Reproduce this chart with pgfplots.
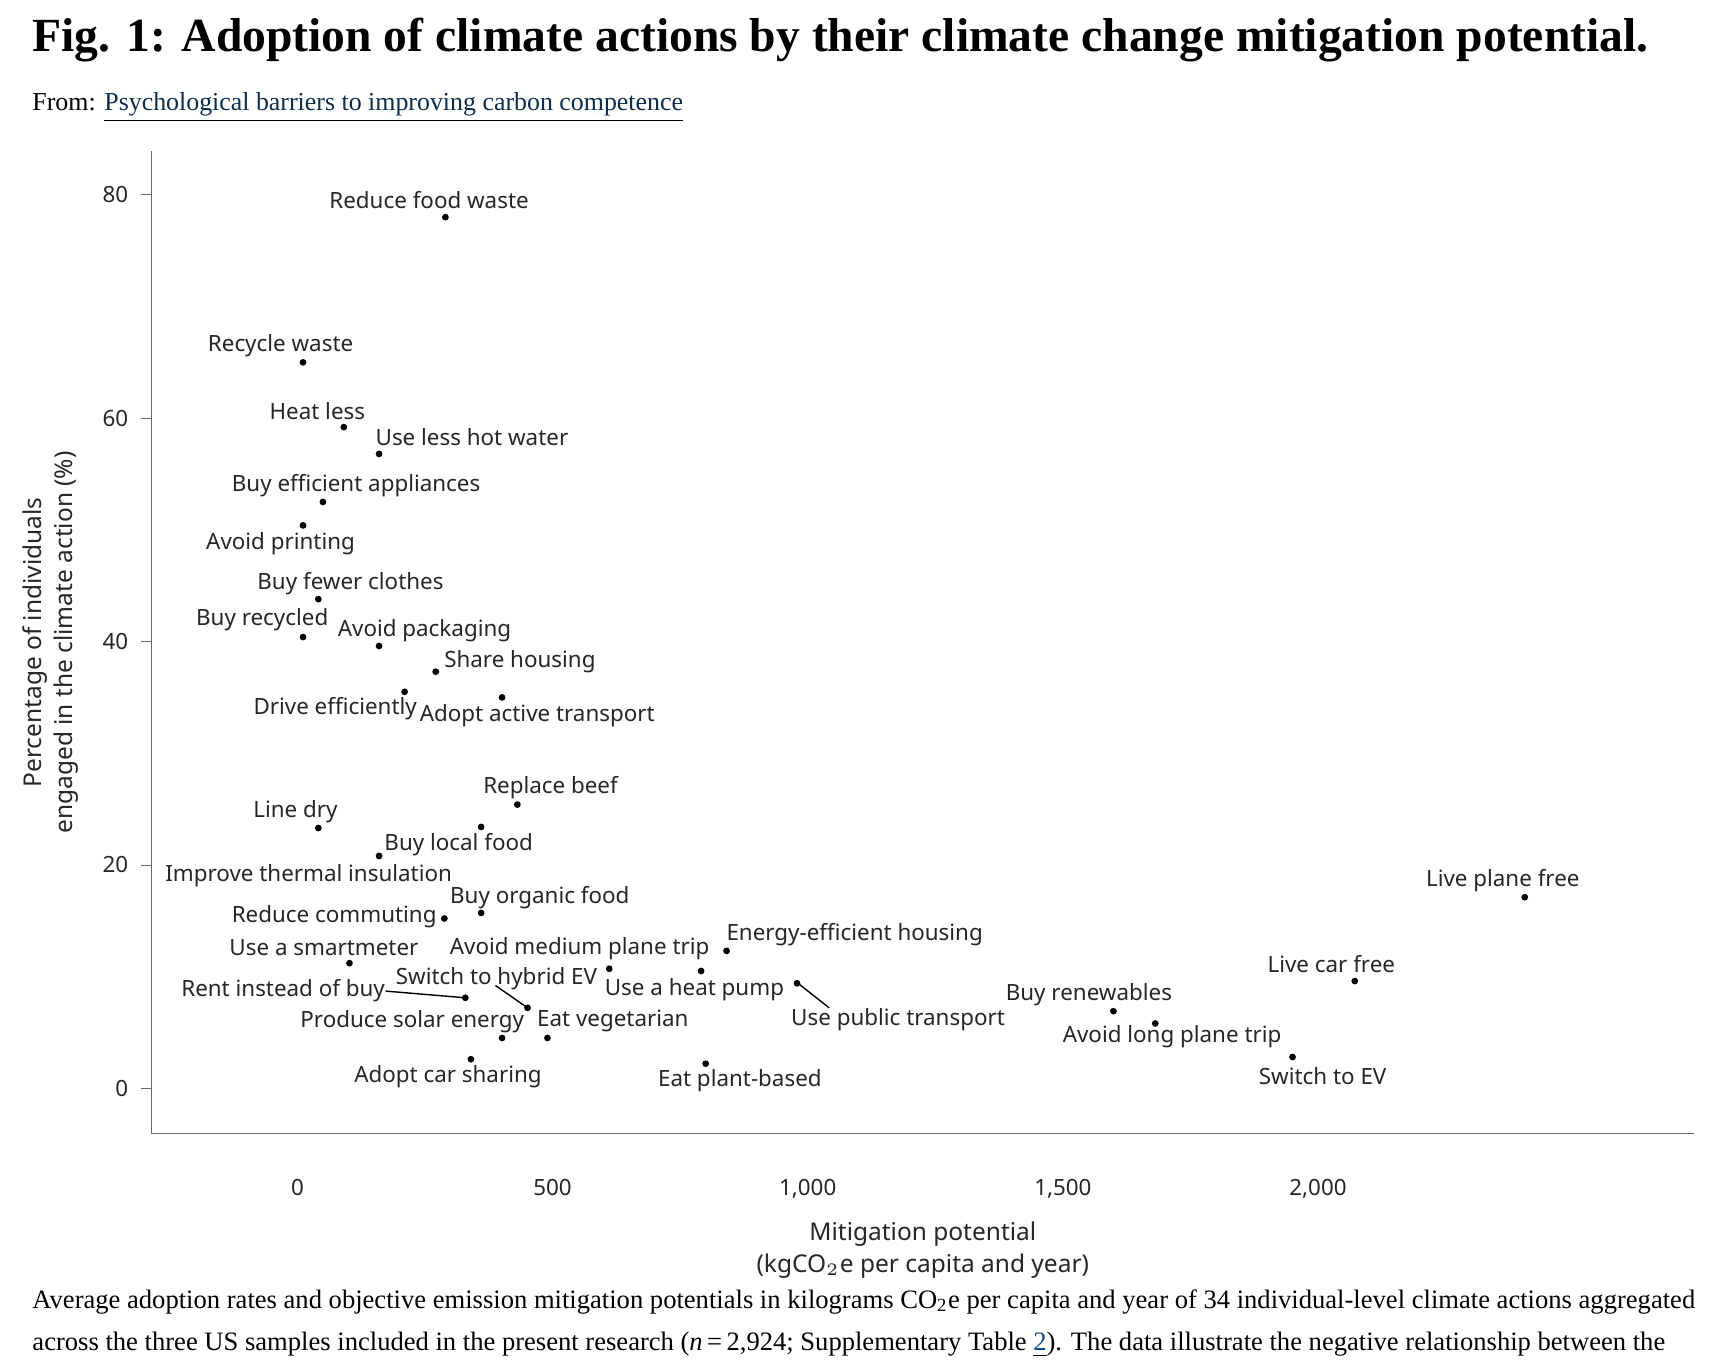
\documentclass[border=0pt]{standalone}
\usepackage{pgfplots}
\pgfplotsset{compat=1.18}
\usepackage{fontspec}
\setmainfont{Liberation Serif}
\newfontfamily\chartfont{Noto Sans}
\begin{document}
\begin{tikzpicture}
\path[use as bounding box] (-1.522,-2.39) rectangle (15.78,11.39);
\node[anchor=west,font=\fontsize{13.6}{15}\selectfont\bfseries] at (-1.32,10.99) {Fig. 1: Adoption of climate actions by their climate change mitigation potential.};
\node[anchor=west,font=\fontsize{7.4}{9}\selectfont] at (-1.32,10.31) {From: \underline{\color[HTML]{0B2D4F}Psychological barriers to improving carbon competence}};
\node[anchor=west,font=\fontsize{7.6}{9}\selectfont] at (-1.32,-1.69) {Average adoption rates and objective emission mitigation potentials in kilograms CO\textsubscript{2}e per capita and year of 34 individual-level climate actions aggregated};
\node[anchor=west,font=\fontsize{7.6}{9}\selectfont] at (-1.32,-2.12) {across the three US samples included in the present research (\textit{n}\,=\,2,924; Supplementary Table \underline{\color[HTML]{0B4F8F}2}). The data illustrate the negative relationship between the};
\begin{axis}[
  at={(0,0)}, anchor=south west, scale only axis,
  width=15.5cm, height=9.87cm,
  xmin=-286, xmax=2737, ymin=-4.06, ymax=83.9,
  axis lines=left, axis line style={-, gray!80!black, thin},
  xtick={0,500,1000,1500,2000},
  xticklabels={0,500,{1,000},{1,500},{2,000}},
  ytick={0,20,40,60,80},
  tick style={gray!80!black},
  major tick length=0.11cm,
  x tick style={draw=none},
  xtick align=outside, ytick align=outside,
  xticklabel style={yshift=-0.22cm},
  tick label style={font=\chartfont\fontsize{6.4}{8}\selectfont, color=black!85},
  /pgf/number format/assume math mode=true,
  xlabel={Mitigation potential\\(kgCO$_2$e per capita and year)},
  ylabel={Percentage of individuals\\engaged in the climate action (\%)},
  label style={font=\chartfont\fontsize{7}{9}\selectfont, align=center, color=black!85},
  clip=false,
]
\addplot[only marks, mark=*, mark size=0.75pt, black] coordinates {
(290,78.0) (11,65.0) (91,59.2) (160,56.8) (50,52.5) (11,50.4) (41,43.8) (11,40.4)
(160,39.6) (271,37.3) (210,35.5) (401,35.0) (431,25.4) (41,23.3) (360,23.4) (160,20.8)
(288,15.2) (360,15.7) (102,11.2) (841,12.3) (611,10.7) (791,10.5) (979,9.4) (329,8.1)
(451,7.2) (401,4.5) (490,4.5) (340,2.6) (800,2.2) (1599,6.9) (1681,5.8) (1950,2.8)
(2072,9.6) (2405,17.1)
};
\addplot[black, thin] coordinates {(173,8.7) (329,8.1)};
\addplot[black, thin] coordinates {(388,9.2) (451,7.2)};
\addplot[black, thin] coordinates {(981,9.4) (1042,7.2)};
\begin{scope}[every node/.style={font=\chartfont\fontsize{6.4}{8}\selectfont, color=black!85, inner sep=0pt}]
\node at (axis cs:258,79.5) {Reduce food waste};
\node at (axis cs:-33,66.5) {Recycle waste};
\node at (axis cs:39,60.6) {Heat less};
\node at (axis cs:342,58.3) {Use less hot water};
\node at (axis cs:115,54.0) {Buy efficient appliances};
\node at (axis cs:-33,48.8) {Avoid printing};
\node at (axis cs:104,45.2) {Buy fewer clothes};
\node at (axis cs:-69,42.0) {Buy recycled};
\node at (axis cs:249,41.0) {Avoid packaging};
\node at (axis cs:436,38.2) {Share housing};
\node at (axis cs:74,34.0) {Drive efficiently};
\node at (axis cs:470,33.4) {Adopt active transport};
\node at (axis cs:496,26.9) {Replace beef};
\node at (axis cs:-4,24.8) {Line dry};
\node at (axis cs:316,21.8) {Buy local food};
\node at (axis cs:22,19.0) {Improve thermal insulation};
\node at (axis cs:475,17.1) {Buy organic food};
\node at (axis cs:72,15.4) {Reduce commuting};
\node at (axis cs:52,12.6) {Use a smartmeter};
\node at (axis cs:1092,13.8) {Energy-efficient housing};
\node at (axis cs:553,12.5) {Avoid medium plane trip};
\node at (axis cs:390,9.8) {Switch to hybrid EV};
\node at (axis cs:778,8.8) {Use a heat pump};
\node at (axis cs:-28,8.7) {Rent instead of buy};
\node at (axis cs:1177,6.1) {Use public transport};
\node at (axis cs:225,6.0) {Produce solar energy};
\node at (axis cs:618,6.0) {Eat vegetarian};
\node at (axis cs:295,1.0) {Adopt car sharing};
\node at (axis cs:867,0.7) {Eat plant-based};
\node at (axis cs:1551,8.4) {Buy renewables};
\node at (axis cs:1714,4.6) {Avoid long plane trip};
\node at (axis cs:2009,1.1) {Switch to EV};
\node at (axis cs:2026,11.1) {Live car free};
\node at (axis cs:2362,18.6) {Live plane free};
\end{scope}
\end{axis}
\end{tikzpicture}
\end{document}
